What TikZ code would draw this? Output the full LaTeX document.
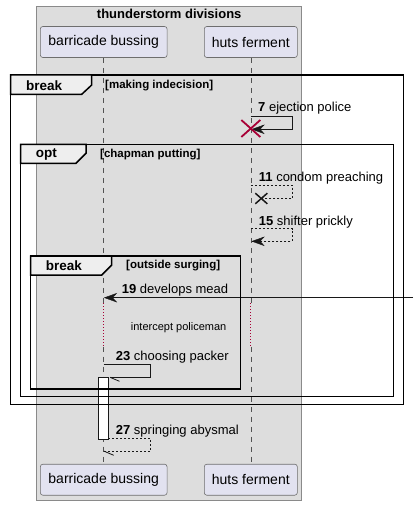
\documentclass[tikz,border=0pt]{standalone}
\usepackage{fontspec}
\setmainfont{Liberation Sans}
\usetikzlibrary{calc}
\definecolor{grpfill}{HTML}{DDDDDD}
\definecolor{grpline}{HTML}{8A8A8A}
\definecolor{partfill}{HTML}{E2E2F0}
\definecolor{partline}{HTML}{6E6E6E}
\definecolor{tabfill}{HTML}{EEEEEE}
\definecolor{plred}{HTML}{A80036}
\definecolor{lline}{HTML}{181818}
\begin{document}
\begin{tikzpicture}[x=1pt,y=-1pt,
  part/.style={draw=partline, fill=partfill, rounded corners=2.5pt, minimum height=31pt, inner sep=0pt, font=\fontsize{14}{16}\selectfont, line width=0.6pt},
  msg/.style={anchor=base west, inner sep=0pt, font=\fontsize{13}{15}\selectfont},
  guard/.style={anchor=base west, inner sep=0pt, font=\bfseries\fontsize{11.5}{13}\selectfont},
  tablbl/.style={anchor=base west, inner sep=0pt, font=\bfseries\fontsize{13.5}{15}\selectfont},
  framebox/.style={draw=black, line width=1.5pt},
  lifeline/.style={draw=lline!75, dash pattern=on 5pt off 5pt, line width=0.6pt},
  delayline/.style={draw=plred, dash pattern=on 1pt off 2pt, line width=0.8pt},
  msgline/.style={draw=lline, line width=0.8pt},
  dashmsg/.style={draw=lline, line width=0.8pt, dash pattern=on 2pt off 2pt},
  headfill/.style={fill=lline, draw=lline, line width=0.4pt, line join=miter}
]
\useasboundingbox (0,0) rectangle (418,505);
% group box
\filldraw[fill=grpfill, draw=grpline, line width=0.8pt] (36.7,6) rectangle (301.7,500);
\node[font=\bfseries\fontsize{13}{15}\selectfont, anchor=base, inner sep=0pt] (gtitle) at (169.2,18.5) {thunderstorm divisions};
% participants
\node[part, minimum width=126.7pt] (bt) at (103.7,42) {barricade bussing};
\node[part, minimum width=93pt] (ht) at (250.8,42) {huts ferment};
\node[part, minimum width=126.7pt] (bb) at (103.7,479.7) {barricade bussing};
\node[part, minimum width=93pt] (hb) at (250.8,479.7) {huts ferment};
% lifelines
\coordinate (bd1) at (103.7,303.3); \coordinate (bd2) at (103.7,346.7);
\coordinate (hd1) at (250.8,303.3); \coordinate (hd2) at (250.8,346.7);
\draw[lifeline] (bt.south) -- (bd1);
\draw[delayline] (bd1) -- (bd2);
\draw[lifeline] (bd2) -- (bb.north);
\draw[lifeline] (ht.south) -- (hd1);
\draw[delayline] (hd1) -- (hd2);
\draw[lifeline] (hd2) -- (hb.north);
% activation
\node[draw=lline, fill=white, minimum width=9.6pt, minimum height=62pt, inner sep=0pt, line width=0.8pt] (act) at (103.5,408) {};
% message 7
\coordinate (m7s) at (250.8,116.7);
\coordinate (m7e) at (252,129.3);
\draw[msgline] (m7s) -- ++(41.5,0) |- (m7e);
\fill[headfill] (m7e) -- ++(12,-4.3) -- ++(-4,4.3) -- ++(4,4.3) -- cycle;
\node[msg] (t7) at (258,112) {\textbf{7} ejection police};
\coordinate (x7) at (250.8,128.5);
\draw[plred, line width=1.8pt] ($(x7)+(-9.5,-8.5)$) -- ($(x7)+(9.5,8.5)$);
\draw[plred, line width=1.8pt] ($(x7)+(-9.5,8.5)$) -- ($(x7)+(9.5,-8.5)$);
% message 11
\coordinate (m11s) at (250.8,185);
\coordinate (x11) at (261.3,198.5);
\draw[dashmsg] (m11s) -- ++(41.5,0) |- (x11);
\draw[lline, line width=1.5pt] ($(x11)+(-6,-5.3)$) -- ($(x11)+(6,5.3)$);
\draw[lline, line width=1.5pt] ($(x11)+(-6,5.3)$) -- ($(x11)+(6,-5.3)$);
\node[msg] (t11) at (258.7,181) {\textbf{11} condom preaching};
% message 15
\coordinate (m15s) at (250.8,228.7);
\coordinate (m15e) at (252,241.3);
\draw[dashmsg] (m15s) -- ++(41.5,0) |- (m15e);
\fill[headfill] (m15e) -- ++(12,-4.3) -- ++(-4,4.3) -- ++(4,4.3) -- cycle;
\node[msg] (t15) at (258.7,225) {\textbf{15} shifter prickly};
% message 19
\coordinate (m19s) at (413,297.7);
\coordinate (m19e) at (104.5,297.7);
\draw[msgline] (m19s) -- (m19e);
\fill[headfill] (m19e) -- ++(12,-4.3) -- ++(-4,4.3) -- ++(4,4.3) -- cycle;
\node[msg] (t19) at (121.7,293.3) {\textbf{19} develops mead};
% delay text
\node[anchor=base west, inner sep=0pt, font=\fontsize{11}{13}\selectfont] (dly) at (130.7,330.5) {intercept policeman};
% message 23
\coordinate (m23s) at (103.7,364.3);
\coordinate (m23e) at (110,377.3);
\draw[msgline] (m23s) -- ++(47,0) |- (m23e);
\draw[msgline] (m23e) -- ++(9.5,4);
\node[msg] (t23) at (115.7,360.7) {\textbf{23} choosing packer};
% message 27
\coordinate (m27s) at (108.3,438.3);
\coordinate (m27e) at (103.7,451);
\draw[dashmsg] (m27s) -- ++(42.4,0) |- (m27e);
\draw[msgline] (m27e) -- ++(10,4.3);
\node[msg] (t27) at (115.7,434.3) {\textbf{27} springing abysmal};
% frames
\draw[framebox] (10.5,75) rectangle (403.5,404.3);
\filldraw[framebox, fill=tabfill] (10.5,75) -- (91.7,75) -- (91.7,85) -- (81.7,94.3) -- (10.5,94.3) -- cycle;
\node[tablbl] (brk1) at (26,90.7) {break};
\node[guard] (g1) at (105,89) {[making indecision]};
\draw[framebox] (20.5,144.3) rectangle (393.5,396.7);
\filldraw[framebox, fill=tabfill] (20.5,144.3) -- (86,144.3) -- (86,153.3) -- (76,163.3) -- (20.5,163.3) -- cycle;
\node[tablbl] (opt1) at (35.7,157.7) {opt};
\node[guard] (g2) at (100,157.5) {[chapman putting]};
\draw[framebox] (30.5,256) rectangle (240.7,389);
\filldraw[framebox, fill=tabfill] (30.5,256) -- (111.7,256) -- (111.7,265) -- (101.7,275) -- (30.5,275) -- cycle;
\node[tablbl] (brk2) at (45.7,270.7) {break};
\node[guard] (g3) at (126,268.8) {[outside surging]};
\end{tikzpicture}
\end{document}
